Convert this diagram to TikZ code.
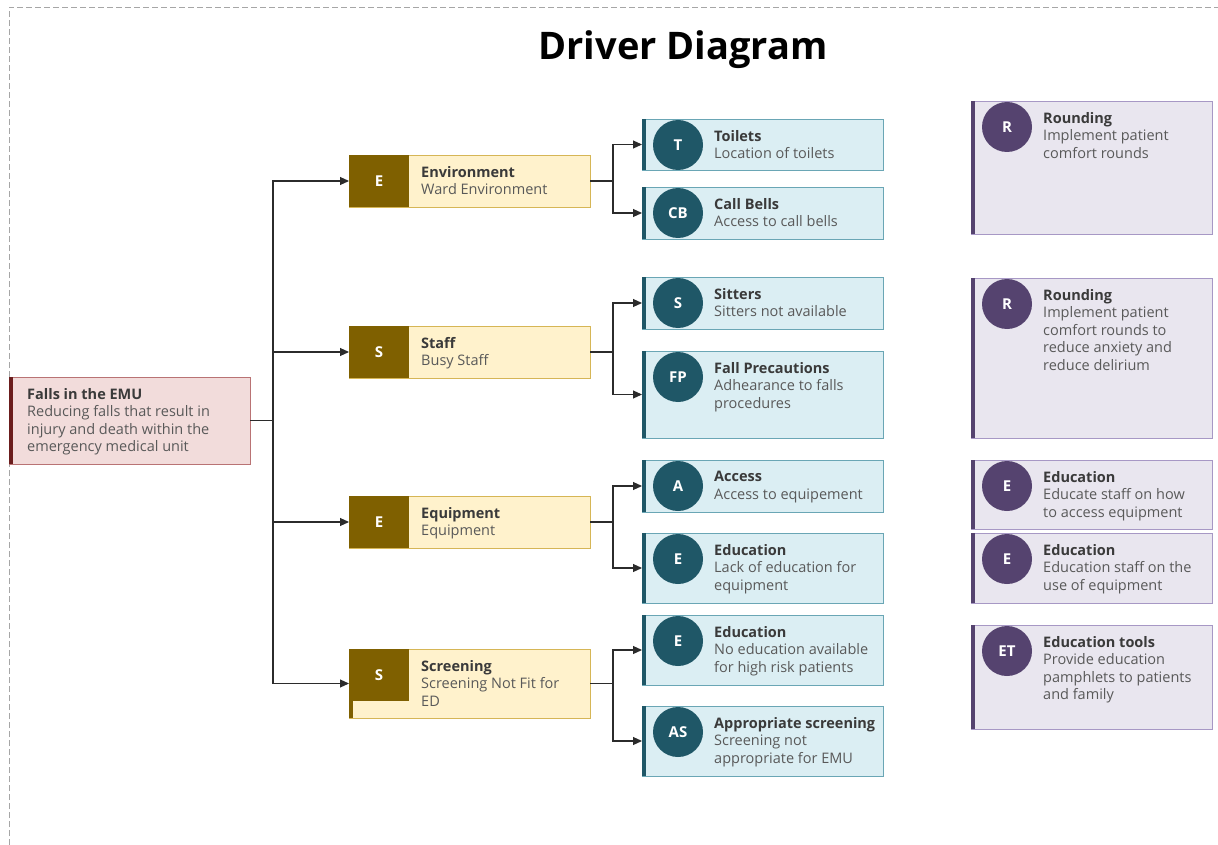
\documentclass[tikz,border=0pt]{standalone}
\usepackage{fontspec}
\setmainfont{Open Sans}
\usetikzlibrary{arrows.meta}

\definecolor{rootfill}{HTML}{F2DCDB}
\definecolor{rootline}{HTML}{B97374}
\definecolor{rootdark}{HTML}{6B1D1D}
\definecolor{drvfill}{HTML}{FFF2CC}
\definecolor{drvline}{HTML}{D6B656}
\definecolor{drvdark}{HTML}{7F6000}
\definecolor{causefill}{HTML}{DBEEF3}
\definecolor{causeline}{HTML}{6AA6B5}
\definecolor{causedark}{HTML}{1F5767}
\definecolor{ideafill}{HTML}{E9E6EF}
\definecolor{idealine}{HTML}{A798C5}
\definecolor{ideadark}{HTML}{55436F}
\definecolor{bodytext}{HTML}{595959}
\definecolor{headtext}{HTML}{3A3A3A}
\definecolor{linkcol}{HTML}{2B2B2B}
\definecolor{framecol}{HTML}{A6A6A6}

\tikzset{
  base/.style={draw, line width=0.9pt, anchor=north west, minimum width=241pt,
    inner sep=0pt, outer sep=0pt},
  rootbox/.style={base, fill=rootfill, draw=rootline},
  drvbox/.style={base, fill=drvfill, draw=drvline},
  causebox/.style={base, fill=causefill, draw=causeline},
  ideabox/.style={base, fill=ideafill, draw=idealine},
  badge/.style={circle, minimum size=50pt, inner sep=0pt, text=white,
    font=\fontsize{15}{17}\selectfont\bfseries},
  sqlabel/.style={text=white, font=\fontsize{15}{17}\selectfont\bfseries},
  label/.style={anchor=north west, align=left, inner sep=0pt,
    font=\fontsize{14.5}{17.5}\selectfont, text=bodytext},
  link/.style={draw=linkcol, line width=1.1pt},
  arrow/.style={link, -{Triangle[length=9pt,width=8pt]}},
}

\newcommand\head[1]{{\color{headtext}\bfseries #1}}

% #1 kind (cause/idea), #2 name, #3 left, #4 top, #5 height, #6 badge, #7 text
\newcommand\card[7]{%
  \node[#1box, minimum height=#5pt] (#2) at (#3,#4) {};
  \fill[#1dark] (#2.north west) rectangle ([xshift=4pt]#2.south west);
  \node[badge, fill=#1dark] (#2-badge) at ([xshift=36pt,yshift=-26pt]#2.north west) {#6};
  \node[label] (#2-text) at ([xshift=72pt,yshift=-11pt]#2.north west) {#7};
}

% #1 name, #2 top, #3 height, #4 letter, #5 text
\newcommand\driver[5]{%
  \node[drvbox, minimum height=#3pt] (#1) at (349,#2) {};
  \fill[drvdark] (#1.north west) rectangle ([xshift=4pt]#1.south west);
  \fill[drvdark] (#1.north west) rectangle ++(60,52);
  \node[sqlabel] (#1-badge) at ([xshift=30pt,yshift=-26pt]#1.north west) {#4};
  \node[label] (#1-text) at ([xshift=72pt,yshift=-11pt]#1.north west) {#5};
}

\begin{document}
\begin{tikzpicture}[x=1pt,y=-1pt]
\useasboundingbox (0,0) rectangle (1218,845);
\fill[white] (0,0) rectangle (1218,845);

% page frame
\draw[framecol, line width=0.9pt, dash pattern=on 6pt off 3pt] (9,845) -- (9,7) -- (1218,7);

\node[font=\fontsize{38}{44}\selectfont\bfseries, text=black] (title) at (683,50) {Driver Diagram};

% aim
\node[rootbox, minimum height=87pt] (root) at (9,377) {};
\fill[rootdark] (root.north west) rectangle ([xshift=4pt]root.south west);
\node[label] (root-text) at ([xshift=18pt,yshift=-11pt]root.north west)
  {\head{Falls in the EMU}\\Reducing falls that result in\\injury and death within the\\emergency medical unit};

% primary drivers
\driver{env}{155}{52}{E}{\head{Environment}\\Ward Environment}
\driver{staff}{326}{52}{S}{\head{Staff}\\Busy Staff}
\driver{equip}{496}{52}{E}{\head{Equipment}\\Equipment}
\driver{screen}{649}{69}{S}{\head{Screening}\\Screening Not Fit for\\ED}

% secondary drivers
\card{cause}{toilets}{642}{119}{51}{T}{\head{Toilets}\\Location of toilets}
\card{cause}{bells}{642}{187}{52}{CB}{\head{Call Bells}\\Access to call bells}
\card{cause}{sitters}{642}{277}{52}{S}{\head{Sitters}\\Sitters not available}
\card{cause}{precaution}{642}{351}{87}{FP}{\head{Fall Precautions}\\Adhearance to falls\\procedures}
\card{cause}{access}{642}{460}{52}{A}{\head{Access}\\Access to equipement}
\card{cause}{eduequip}{642}{533}{70}{E}{\head{Education}\\Lack of education for\\equipment}
\card{cause}{edupat}{642}{615}{70}{E}{\head{Education}\\No education available\\for high risk patients}
\card{cause}{screenfit}{642}{706}{70}{AS}{\head{Appropriate screening}\\Screening not\\appropriate for EMU}

% change ideas
\card{idea}{round1}{971}{101}{133}{R}{\head{Rounding}\\Implement patient\\comfort rounds}
\card{idea}{round2}{971}{278}{160}{R}{\head{Rounding}\\Implement patient\\comfort rounds to\\reduce anxiety and\\reduce delirium}
\card{idea}{eduhow}{971}{460}{69}{E}{\head{Education}\\Educate staff on how\\to access equipment}
\card{idea}{eduuse}{971}{533}{70}{E}{\head{Education}\\Education staff on the\\use of equipment}
\card{idea}{tools}{971}{625}{104}{ET}{\head{Education tools}\\Provide education\\pamphlets to patients\\and family}

% connectors
\draw[link] (root.east) -- ++(23,0) coordinate (j0);
\foreach \d in {env,staff,equip,screen} \draw[arrow] (j0) |- (\d.west);

\draw[link] (env.east) -- ++(23,0) coordinate (j1);
\draw[arrow] (j1) |- (toilets.west);
\draw[arrow] (j1) |- (bells.west);

\draw[link] (staff.east) -- ++(23,0) coordinate (j2);
\draw[arrow] (j2) |- (sitters.west);
\draw[arrow] (j2) |- (precaution.west);

\draw[link] (equip.east) -- ++(23,0) coordinate (j3);
\draw[arrow] (j3) |- (access.west);
\draw[arrow] (j3) |- (eduequip.west);

\draw[link] (screen.east) -- ++(23,0) coordinate (j4);
\draw[arrow] (j4) |- (edupat.west);
\draw[arrow] (j4) |- (screenfit.west);
\end{tikzpicture}
\end{document}
